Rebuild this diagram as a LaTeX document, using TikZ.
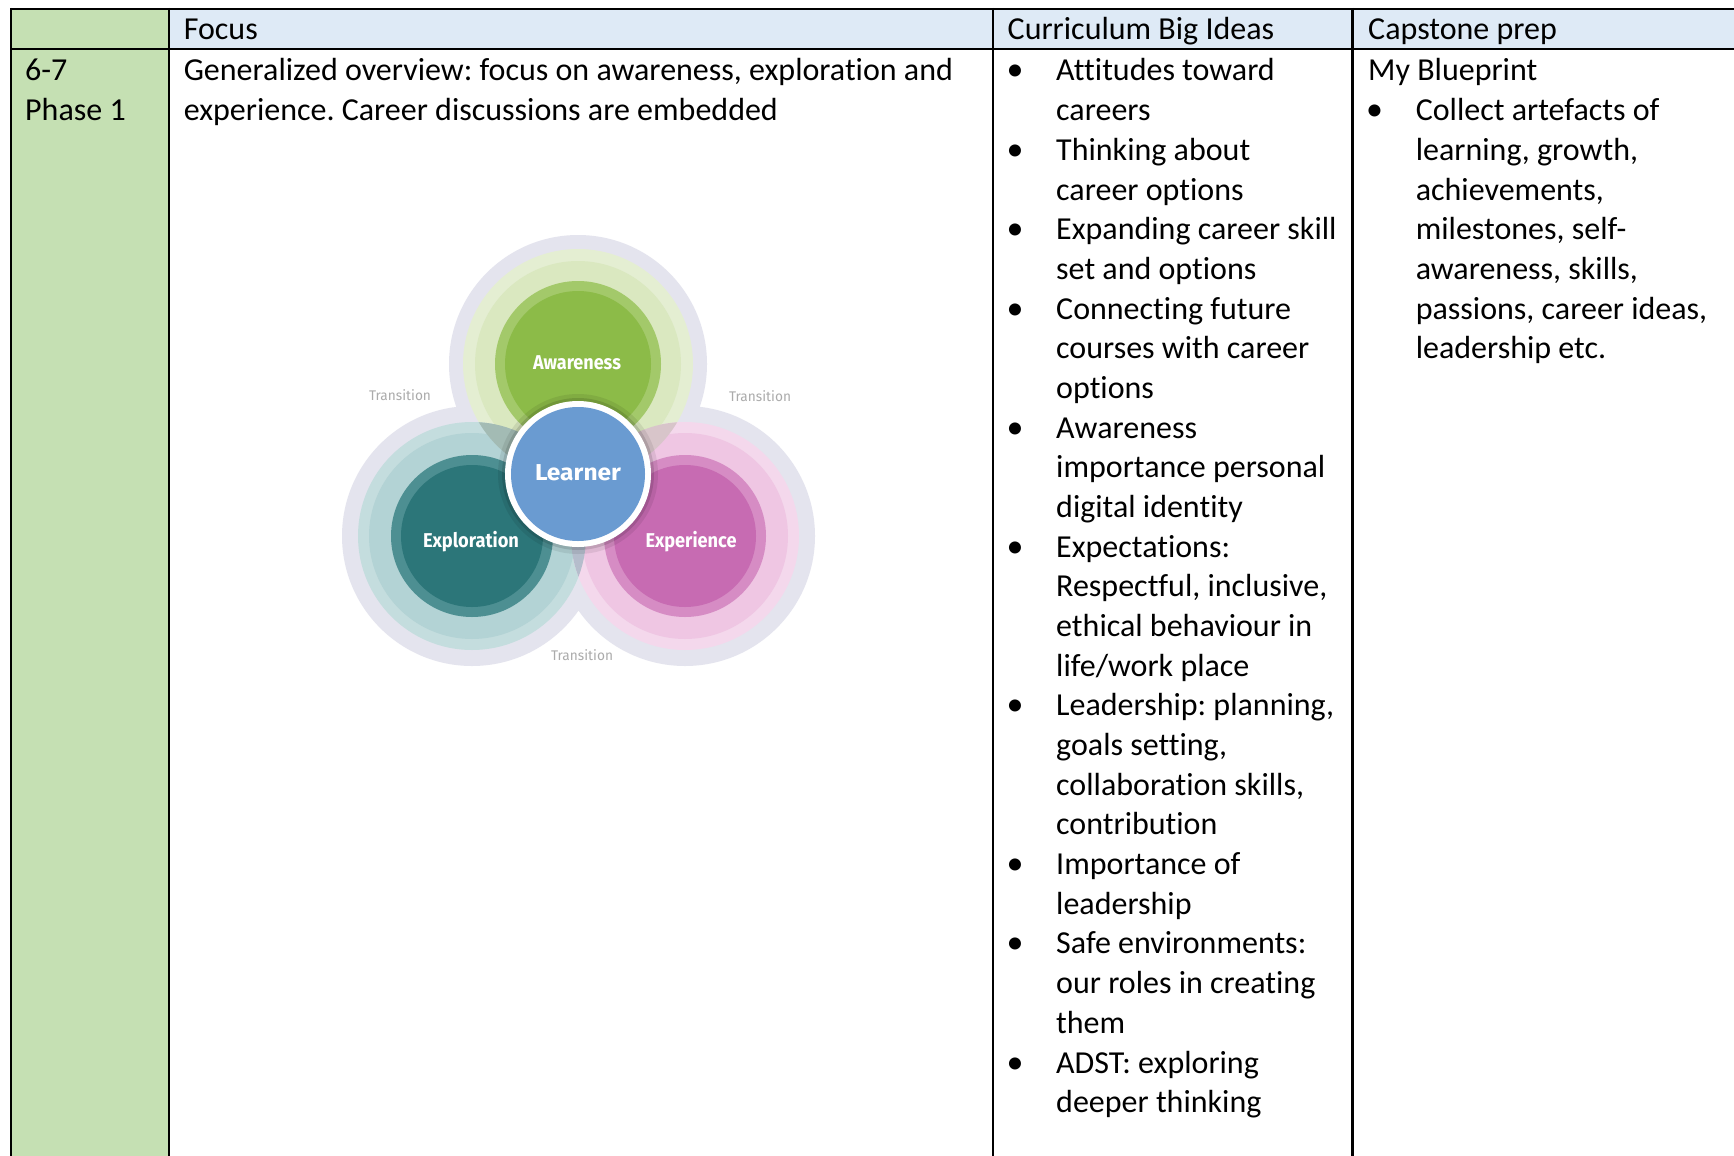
\documentclass[tikz,border=0pt]{standalone}
\usepackage{fontspec}
\setmainfont{Carlito}[Ligatures=NoCommon]
\newfontfamily\diagfont{Fira Sans}
\usepackage{graphicx}
\frenchspacing
\definecolor{hdrblue}{HTML}{DEEAF6}
\definecolor{phasegreen}{HTML}{C5E0B3}
\definecolor{halolav}{HTML}{E4E4EE}
\definecolor{awdark}{HTML}{8CBB48}
\definecolor{awring}{HTML}{A3C96A}
\definecolor{awhalo}{HTML}{E4EED2}
\definecolor{awhaloin}{HTML}{DAE8C0}
\definecolor{exdark}{HTML}{2C7679}
\definecolor{exring}{HTML}{4D8F92}
\definecolor{exhalo}{HTML}{C4DDDE}
\definecolor{exhaloin}{HTML}{B3D3D5}
\definecolor{epdark}{HTML}{C76BB2}
\definecolor{epring}{HTML}{D68CC4}
\definecolor{ephalo}{HTML}{F4D8EC}
\definecolor{ephaloin}{HTML}{EFC6E3}
\definecolor{lrnblue}{HTML}{6A9BD1}
\definecolor{transgray}{HTML}{ABABAB}
\definecolor{awexov}{HTML}{A3BBB4}
\definecolor{awepov}{HTML}{D8C5CA}
\definecolor{exepov}{HTML}{B5BDCC}
\newcommand\fitw[2]{\resizebox{#1pt}{\height}{#2}}
\begin{document}
\begin{tikzpicture}[x=1pt,y=-1pt,
  cell/.style={font=\fontsize{32}{39.68}\selectfont, anchor=base west, inner sep=0pt},
  bul/.style={font=\fontsize{34}{39.68}\selectfont, anchor=base, inner sep=0pt},
  grid/.style={line width=2.2pt, black},
  dlab/.style={text=white, inner sep=0pt, font=\diagfont\bfseries\fontsize{20}{20}\selectfont},
  trans/.style={text=transgray, inner sep=0pt, font=\diagfont\fontsize{14}{14}\selectfont},
]
\useasboundingbox (0,0) rectangle (1734,1156);
\fill[white] (0,0) rectangle (1734,1156);
% ---------- table fills ----------
\fill[phasegreen] (11,9) rectangle (169,1156);
\fill[hdrblue] (169,9) rectangle (1734,49);
% ---------- grid ----------
\draw[grid] (10,9) -- (1734,9);
\draw[grid] (10,49) -- (1734,49);
\draw[grid] (11,8) -- (11,1156);
\draw[grid] (169,8) -- (169,1156);
\draw[grid] (993,8) -- (993,1156);
\draw[grid] (1352.5,8) -- (1352.5,1156);
% ---------- header ----------
\node[cell] (hfocus) at (183.6,40) {Focus};
\node[cell] (hcurr) at (1007.5,40) {Curriculum Big Ideas};
\node[cell] (hcap) at (1368,40) {Capstone prep};
% ---------- first column ----------
\node[cell] (ph1) at (25,81) {6-7};
\node[cell] (ph2) at (25,120.68) {Phase 1};
% ---------- focus ----------
\node[cell] (fo1) at (183.6,81) {Generalized overview: focus on awareness, exploration and};
\node[cell] (fo2) at (183.6,120.68) {experience. Career discussions are embedded};
% ---------- curriculum big ideas ----------
\foreach \t [count=\k from 0] in {{Attitudes toward},{careers},{Thinking about},{career options},
  {Expanding career skill},{set and options},{Connecting future},{courses with career},{options},
  {Awareness},{importance personal},{digital identity},{Expectations:},{Respectful, inclusive,},
  {ethical behaviour in},{life/work place},{Leadership: planning,},{goals setting,},
  {collaboration skills,},{contribution},{Importance of},{leadership},{Safe environments:},
  {our roles in creating},{them},{ADST: exploring},{deeper thinking}}
  \node[cell] (cb\k) at (1056,81+39.68*\k) {\t};
\foreach \k in {0,2,4,6,9,12,16,20,22,25}
  \node[bul] (cbb\k) at (1015,81+39.68*\k) {•};
% ---------- capstone ----------
\node[cell] (cp0) at (1368,81) {My Blueprint};
\node[bul] (cpb1) at (1374.6,120.68) {•};
\foreach \t [count=\k from 1] in {{Collect artefacts of},{learning, growth,},{achievements,},
  {milestones, self-},{awareness, skills,},{passions, career ideas,},{leadership etc.}}
  \node[cell] (cp\k) at (1415.6,81+39.68*\k) {\t};
% ---------- diagram ----------
\coordinate (A) at (578,364);
\coordinate (X) at (472,536);
\coordinate (E) at (685,536);
\coordinate (L) at (578,474);
% outer lavender halos
\fill[halolav] (A) circle (129) (X) circle (130) (E) circle (130);
% pale halos
\fill[awhalo] (A) circle (115);
\fill[exhalo] (X) circle (114);
\fill[ephalo] (E) circle (114);
\fill[awhaloin] (A) circle (103);
\fill[exhaloin] (X) circle (103);
\fill[ephaloin] (E) circle (103);
% overlaps
\begin{scope}\clip (A) circle (115); \fill[awexov] (X) circle (114);\end{scope}
\begin{scope}\clip (A) circle (115); \fill[awepov] (E) circle (114);\end{scope}
\begin{scope}\clip (X) circle (114); \fill[exepov] (E) circle (114);\end{scope}
% rings and cores
\fill[awring] (A) circle (83);
\fill[awdark] (A) circle (73);
\fill[exring] (X) circle (81);
\fill[exdark] (X) circle (71);
\fill[epring] (E) circle (81);
\fill[epdark] (E) circle (71);
% learner
\fill[black,opacity=0.08] (L) circle (80);
\fill[black,opacity=0.12] (L) circle (76);
\fill[white] (L) circle (73);
\fill[lrnblue] (L) circle (67);
% labels
\node[dlab] (lA) at (577,363) {\fitw{88}{Awareness}};
\node[dlab] (lX) at (471,542) {\fitw{96}{Exploration}};
\node[dlab] (lE) at (691,542) {\fitw{91}{Experience}};
\node[dlab, font=\diagfont\bfseries\fontsize{23}{23}\selectfont] (lL) at (578,473) {\fitw{86}{Learner}};
\node[trans] (t1) at (400,395) {\fitw{62}{Transition}};
\node[trans] (t2) at (760,396) {\fitw{62}{Transition}};
\node[trans] (t3) at (582,655) {\fitw{62}{Transition}};
\end{tikzpicture}
\end{document}
